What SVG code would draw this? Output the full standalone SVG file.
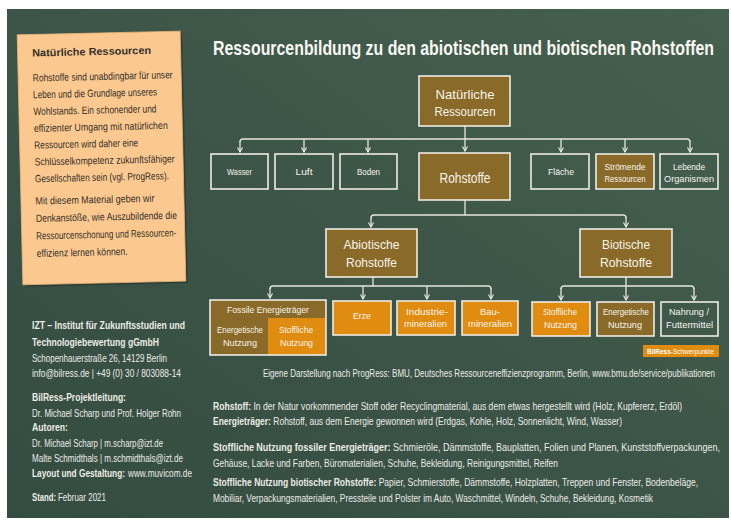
<svg xmlns="http://www.w3.org/2000/svg" width="731" height="522" viewBox="0 0 731 522">
<defs>
<linearGradient id="bg" x1="0" y1="1" x2="1" y2="0">
<stop offset="0" stop-color="#354c40"/>
<stop offset="0.5" stop-color="#3c5548"/>
<stop offset="1" stop-color="#46604f"/>
</linearGradient>
<marker id="arr" viewBox="0 0 6 6" refX="5" refY="3" markerWidth="6" markerHeight="6" markerUnits="userSpaceOnUse" orient="auto">
<path d="M0.5,0.5 L5,3 L0.5,5.5" fill="none" stroke="#ecebe4" stroke-width="1.1"/>
</marker>
<style>
.chalk{font-family:"Liberation Sans Narrow","Liberation Sans",sans-serif;fill:#f6f4ec;text-anchor:middle}
.box{stroke:#eeece4;stroke-width:1.6}
.brown{fill:#8a6a28}
.orange{fill:#e08c10}
.plain{fill:none}
.conn{fill:none;stroke:#e8e6de;stroke-width:1.3}
.drop{fill:none;stroke:#e8e6de;stroke-width:1.3;marker-end:url(#arr)}
.info{font-family:"Liberation Sans",Arial,sans-serif;font-size:10px;fill:#ecece6}
.def{font-family:"Liberation Sans",Arial,sans-serif;font-size:10px;fill:#ecece6}
.b{font-weight:bold}
.note{font-family:"Liberation Sans",Arial,sans-serif;font-size:10.5px;fill:#35302a}
</style>
</defs>
<rect x="0" y="0" width="731" height="522" fill="#ffffff"/>
<rect x="7" y="9" width="722" height="509" fill="url(#bg)"/>

<!-- sticky note -->
<g id="note" transform="rotate(-1.3 101 158)">
<rect x="22" y="35" width="163" height="250" fill="#000" opacity="0.25"/>
<rect x="20" y="33" width="163" height="250" fill="#fbc98f" stroke="#e9b478" stroke-width="0.8"/>
<g transform="matrix(0.8,0,0,1,6.9,0)">
<text class="note b" x="34.5" y="55" font-size="12.5" textLength="148.8" lengthAdjust="spacingAndGlyphs">Natürliche Ressourcen</text>
<text class="note" x="34.5" y="80" textLength="175" lengthAdjust="spacingAndGlyphs">Rohstoffe sind unabdingbar für unser</text>
<text class="note" x="34.5" y="96.8" textLength="155" lengthAdjust="spacingAndGlyphs">Leben und die Grundlage unseres</text>
<text class="note" x="34.5" y="113.6" textLength="153.8" lengthAdjust="spacingAndGlyphs">Wohlstands. Ein schonender und</text>
<text class="note" x="34.5" y="130.4" textLength="167.5" lengthAdjust="spacingAndGlyphs">effizienter Umgang mit natürlichen</text>
<text class="note" x="34.5" y="147.2" textLength="130" lengthAdjust="spacingAndGlyphs">Ressourcen wird daher eine</text>
<text class="note" x="34.5" y="164" textLength="175" lengthAdjust="spacingAndGlyphs">Schlüsselkompetenz zukunftsfähiger</text>
<text class="note" x="34.5" y="180.8" textLength="167.5" lengthAdjust="spacingAndGlyphs">Gesellschaften sein (vgl. ProgRess).</text>
<text class="note" x="34.5" y="203" textLength="148.8" lengthAdjust="spacingAndGlyphs">Mit diesem Material geben wir</text>
<text class="note" x="34.5" y="220.5" textLength="176.3" lengthAdjust="spacingAndGlyphs">Denkanstöße, wie Auszubildende die</text>
<text class="note" x="34.5" y="238" textLength="175" lengthAdjust="spacingAndGlyphs">Ressourcenschonung und Ressourcen-</text>
<text class="note" x="34.5" y="255.5" textLength="113.8" lengthAdjust="spacingAndGlyphs">effizienz lernen können.</text>
</g>
</g>

<!-- title -->
<text id="title" x="213" y="55" transform="matrix(0.79,0,0,1,44.73,0)" font-family="Liberation Sans, Arial, sans-serif" font-size="20" font-weight="bold" fill="#f8f7f2" textLength="634.2" lengthAdjust="spacingAndGlyphs">Ressourcenbildung zu den abiotischen und biotischen Rohstoffen</text>

<!-- connectors -->
<g id="connectors">
<path class="conn" d="M465,126 V139 M240,142 Q240,139 243,139 H687 Q690,139 690,142"/>
<path class="drop" d="M240,141 V152"/>
<path class="drop" d="M304,139 V152"/>
<path class="drop" d="M368,139 V152"/>
<path class="drop" d="M465,139 V151"/>
<path class="drop" d="M561,139 V152"/>
<path class="drop" d="M625,139 V152"/>
<path class="drop" d="M690,141 V152"/>
<path class="conn" d="M465,200 V215 M371,218 Q371,215 374,215 H623 Q626,215 626,218"/>
<path class="drop" d="M371,217 V227"/>
<path class="drop" d="M626,217 V227"/>
<path class="conn" d="M373,277 V286 M270,289 Q270,286 273,286 H488 Q491,286 491,289"/>
<path class="drop" d="M270,288 V298"/>
<path class="drop" d="M363,286 V299"/>
<path class="drop" d="M427,286 V299"/>
<path class="drop" d="M491,288 V299"/>
<path class="conn" d="M626,277 V286 M561,289 Q561,286 564,286 H691 Q694,286 694,289"/>
<path class="drop" d="M561,288 V300"/>
<path class="drop" d="M626,286 V300"/>
<path class="drop" d="M694,288 V300"/>
</g>

<!-- top level -->
<g id="n-natuerliche">
<rect class="box brown" x="419" y="76" width="91" height="50"/>
<text class="chalk" x="465" y="98.7" font-size="13" textLength="59" lengthAdjust="spacingAndGlyphs">Natürliche</text>
<text class="chalk" x="465" y="115.6" font-size="13" textLength="61" lengthAdjust="spacingAndGlyphs">Ressourcen</text>
</g>
<g id="n-wasser">
<rect class="box plain" x="211" y="154" width="57" height="35"/>
<text class="chalk" x="239.5" y="175" font-size="9.5" textLength="25" lengthAdjust="spacingAndGlyphs">Wasser</text>
</g>
<g id="n-luft">
<rect class="box plain" x="275" y="154" width="58" height="35"/>
<text class="chalk" x="304" y="175" font-size="9.5" textLength="17" lengthAdjust="spacingAndGlyphs">Luft</text>
</g>
<g id="n-boden">
<rect class="box plain" x="340" y="154" width="57" height="35"/>
<text class="chalk" x="368.5" y="175" font-size="9.5" textLength="23" lengthAdjust="spacingAndGlyphs">Boden</text>
</g>
<g id="n-rohstoffe">
<rect class="box brown" x="419" y="153" width="91" height="47"/>
<text class="chalk" x="465" y="183" font-size="15" textLength="51" lengthAdjust="spacingAndGlyphs">Rohstoffe</text>
</g>
<g id="n-flaeche">
<rect class="box plain" x="531" y="154" width="58" height="35"/>
<text class="chalk" x="561" y="175" font-size="9.5" textLength="26" lengthAdjust="spacingAndGlyphs">Fläche</text>
</g>
<g id="n-stroemende">
<rect class="box brown" x="596" y="154" width="58" height="35"/>
<text class="chalk" x="625" y="170" font-size="9" textLength="41" lengthAdjust="spacingAndGlyphs">Strömende</text>
<text class="chalk" x="625" y="181.5" font-size="9" textLength="41" lengthAdjust="spacingAndGlyphs">Ressourcen</text>
</g>
<g id="n-lebende">
<rect class="box plain" x="660" y="154" width="58" height="35"/>
<text class="chalk" x="689" y="170" font-size="9" textLength="32" lengthAdjust="spacingAndGlyphs">Lebende</text>
<text class="chalk" x="689" y="181.5" font-size="9" textLength="50" lengthAdjust="spacingAndGlyphs">Organismen</text>
</g>

<!-- second level -->
<g id="n-abiotische">
<rect class="box brown" x="326" y="229" width="91" height="48"/>
<text class="chalk" x="371.5" y="249" font-size="13" textLength="56" lengthAdjust="spacingAndGlyphs">Abiotische</text>
<text class="chalk" x="371.5" y="267" font-size="13" textLength="51" lengthAdjust="spacingAndGlyphs">Rohstoffe</text>
</g>
<g id="n-biotische">
<rect class="box brown" x="580" y="229" width="92" height="48"/>
<text class="chalk" x="626" y="249" font-size="13" textLength="48" lengthAdjust="spacingAndGlyphs">Biotische</text>
<text class="chalk" x="626" y="267" font-size="13" textLength="52" lengthAdjust="spacingAndGlyphs">Rohstoffe</text>
</g>

<!-- third level -->
<g id="n-fossile">
<rect class="brown" x="210" y="300" width="116" height="18"/>
<rect class="brown" x="210" y="318" width="58" height="37"/>
<rect class="orange" x="268" y="318" width="58" height="37"/>
<rect class="box" fill="none" x="210" y="300" width="116" height="55"/>
<text class="chalk" x="268" y="313" font-size="9.5" textLength="82" lengthAdjust="spacingAndGlyphs">Fossile Energieträger</text>
<text class="chalk" x="240" y="333" font-size="9.5" textLength="46" lengthAdjust="spacingAndGlyphs">Energetische</text>
<text class="chalk" x="240" y="346" font-size="9.5" textLength="34" lengthAdjust="spacingAndGlyphs">Nutzung</text>
<text class="chalk" x="296" y="333" font-size="9.5" textLength="34" lengthAdjust="spacingAndGlyphs">Stoffliche</text>
<text class="chalk" x="296.5" y="346" font-size="9.5" textLength="33" lengthAdjust="spacingAndGlyphs">Nutzung</text>
</g>
<g id="n-erze">
<rect class="box orange" x="333" y="301" width="58" height="34"/>
<text class="chalk" x="362" y="319" font-size="9.5" textLength="18" lengthAdjust="spacingAndGlyphs">Erze</text>
</g>
<g id="n-industrie">
<rect class="box orange" x="397" y="301" width="58" height="34"/>
<text class="chalk" x="427" y="315" font-size="9.5" textLength="42" lengthAdjust="spacingAndGlyphs">Industrie-</text>
<text class="chalk" x="425.5" y="327" font-size="9.5" textLength="43" lengthAdjust="spacingAndGlyphs">mineralien</text>
</g>
<g id="n-bau">
<rect class="box orange" x="462" y="301" width="56" height="34"/>
<text class="chalk" x="490" y="315" font-size="9.5" textLength="20" lengthAdjust="spacingAndGlyphs">Bau-</text>
<text class="chalk" x="490" y="327" font-size="9.5" textLength="44" lengthAdjust="spacingAndGlyphs">mineralien</text>
</g>
<g id="n-stofflich-bio">
<rect class="box orange" x="532" y="302" width="58" height="34"/>
<text class="chalk" x="560" y="315" font-size="9.5" textLength="34" lengthAdjust="spacingAndGlyphs">Stoffliche</text>
<text class="chalk" x="560.5" y="328" font-size="9.5" textLength="33" lengthAdjust="spacingAndGlyphs">Nutzung</text>
</g>
<g id="n-energetisch-bio">
<rect class="box brown" x="597" y="302" width="57" height="34"/>
<text class="chalk" x="626" y="315" font-size="9.5" textLength="46" lengthAdjust="spacingAndGlyphs">Energetische</text>
<text class="chalk" x="625" y="328" font-size="9.5" textLength="34" lengthAdjust="spacingAndGlyphs">Nutzung</text>
</g>
<g id="n-nahrung">
<rect class="box plain" x="661" y="302" width="57" height="34"/>
<text class="chalk" x="689" y="315" font-size="9.5" textLength="40" lengthAdjust="spacingAndGlyphs">Nahrung /</text>
<text class="chalk" x="689.5" y="328" font-size="9.5" textLength="47" lengthAdjust="spacingAndGlyphs">Futtermittel</text>
</g>

<!-- legend -->
<g id="legend">
<rect x="643" y="345" width="76" height="12" fill="#e08c10"/>
<text x="647" y="354" font-family="Liberation Sans Narrow, Liberation Sans, sans-serif" font-size="7" fill="#ffffff" textLength="67" lengthAdjust="spacingAndGlyphs"><tspan font-weight="bold">BilRess</tspan>-Schwerpunkte</text>
</g>

<text class="info" x="263" y="377" font-size="9.5" transform="matrix(0.83,0,0,1,44.71,0)" textLength="544.6" lengthAdjust="spacingAndGlyphs">Eigene Darstellung nach ProgRess: BMU, Deutsches Ressourceneffizienzprogramm, Berlin, www.bmu.de/service/publikationen</text>

<!-- left info -->
<g id="imprint">
<g transform="matrix(0.82,0,0,1,5.76,0)">
<text class="info b" x="32" y="329" textLength="186.6" lengthAdjust="spacingAndGlyphs">IZT – Institut für Zukunftsstudien und</text>
<text class="info b" x="32" y="346" textLength="154.9" lengthAdjust="spacingAndGlyphs">Technologiebewertung gGmbH</text>
<text class="info" x="32" y="362" textLength="164.6" lengthAdjust="spacingAndGlyphs">Schopenhauerstraße 26, 14129 Berlin</text>
<text class="info" x="32" y="377" textLength="181.7" lengthAdjust="spacingAndGlyphs">info@bilress.de | +49 (0) 30 / 803088-14</text>
<text class="info b" x="32" y="401" textLength="114.6" lengthAdjust="spacingAndGlyphs">BilRess-Projektleitung:</text>
<text class="info" x="32" y="417" textLength="181.7" lengthAdjust="spacingAndGlyphs">Dr. Michael Scharp und Prof. Holger Rohn</text>
<text class="info b" x="32" y="431.5" textLength="43.9" lengthAdjust="spacingAndGlyphs">Autoren:</text>
<text class="info" x="32" y="447" textLength="159.8" lengthAdjust="spacingAndGlyphs">Dr. Michael Scharp | m.scharp@izt.de</text>
<text class="info" x="32" y="462" textLength="184.1" lengthAdjust="spacingAndGlyphs">Malte Schmidthals | m.schmidthals@izt.de</text>
<text class="info b" x="32" y="477" textLength="113.4" lengthAdjust="spacingAndGlyphs">Layout und Gestaltung:</text>
</g>
<text class="info" x="128" y="477" transform="matrix(0.82,0,0,1,23.04,0)" textLength="78" lengthAdjust="spacingAndGlyphs">www.muvicom.de</text>
<text class="info b" x="32" y="501" transform="matrix(0.76,0,0,1,7.68,0)" textLength="31.6" lengthAdjust="spacingAndGlyphs">Stand:</text>
<text class="info" x="58" y="501" transform="matrix(0.82,0,0,1,10.44,0)" textLength="58.5" lengthAdjust="spacingAndGlyphs">Februar 2021</text>
</g>

<!-- definitions -->
<g id="definitions" transform="matrix(0.82,0,0,1,38.34,0)">
<text class="def" x="213" y="410" textLength="572" lengthAdjust="spacingAndGlyphs"><tspan font-weight="bold">Rohstoff:</tspan>  In der Natur vorkommender Stoff oder Recyclingmaterial, aus dem etwas hergestellt wird (Holz, Kupfererz, Erdöl)</text>
<text class="def" x="213" y="425" textLength="498.8" lengthAdjust="spacingAndGlyphs"><tspan font-weight="bold">Energieträger:</tspan>  Rohstoff, aus dem Energie gewonnen wird (Erdgas, Kohle, Holz, Sonnenlicht, Wind, Wasser)</text>
<text class="def" x="213" y="451" textLength="618.3" lengthAdjust="spacingAndGlyphs"><tspan font-weight="bold">Stoffliche Nutzung fossiler Energieträger:</tspan>  Schmieröle, Dämmstoffe, Bauplatten, Folien und Planen, Kunststoffverpackungen,</text>
<text class="def" x="213" y="467" textLength="420.7" lengthAdjust="spacingAndGlyphs">Gehäuse, Lacke und Farben, Büromaterialien, Schuhe, Bekleidung, Reinigungsmittel, Reifen</text>
<text class="def" x="213" y="486" textLength="591.5" lengthAdjust="spacingAndGlyphs"><tspan font-weight="bold">Stoffliche Nutzung biotischer Rohstoffe:</tspan>  Papier, Schmierstoffe, Dämmstoffe, Holzplatten, Treppen und Fenster, Bodenbeläge,</text>
<text class="def" x="213" y="502" textLength="536.6" lengthAdjust="spacingAndGlyphs">Mobiliar, Verpackungsmaterialien, Pressteile und Polster im Auto, Waschmittel, Windeln, Schuhe, Bekleidung, Kosmetik</text>
</g>
</svg>
